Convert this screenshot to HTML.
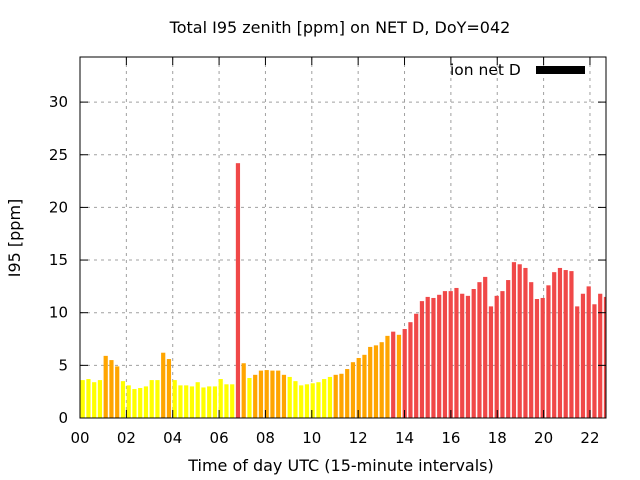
<!DOCTYPE html>
<html><head><meta charset="utf-8"><style>
html,body{margin:0;padding:0;background:#fff}
svg{display:block;font-family:"DejaVu Sans","Liberation Sans",sans-serif}
</style></head><body>
<svg id="chart" width="640" height="480">
<text x="340" y="33" text-anchor="middle" font-size="16">Total I95 zenith [ppm] on NET D, DoY=042</text>
<g id="grid"></g>
<g id="bars"></g>
<g id="axes"></g>
<text x="341" y="471" text-anchor="middle" font-size="16">Time of day UTC (15-minute intervals)</text>
<text transform="translate(20,238) rotate(-90)" text-anchor="middle" font-size="16">I95 [ppm]</text>
<g>
<text x="450" y="75" font-size="15.5">ion net D</text>
<rect x="536" y="66" width="49" height="8" fill="#000"></rect>
</g>
</svg>
<script>
const values = [3.6,3.7,3.4,3.6,5.9,5.5,4.9,3.5,3.1,2.75,2.85,3.0,3.6,3.6,6.2,5.6,3.6,3.1,3.1,3.0,3.4,2.9,3.0,3.0,3.7,3.2,3.2,24.2,5.2,3.8,4.1,4.5,4.55,4.5,4.5,4.1,3.9,3.5,3.1,3.2,3.3,3.4,3.7,3.9,4.1,4.2,4.65,5.3,5.7,6.0,6.75,6.9,7.2,7.8,8.2,7.9,8.45,9.1,9.9,11.1,11.5,11.4,11.7,12.05,12.05,12.35,11.8,11.6,12.25,12.9,13.4,10.6,11.6,12.05,13.1,14.8,14.6,14.25,12.9,11.3,11.4,12.6,13.85,14.25,14.05,13.95,10.6,11.8,12.5,10.8,11.8,11.5];
const yTicks = [0,5,10,15,20,25,30];
const xTickLabels = ["00","02","04","06","08","10","12","14","16","18","20","22"];
const xTickHours = [0,2,4,6,8,10,12,14,16,18,20,22];

const L=80,R=606,T=57,B=418;
const yMax=(B-T)/10.53;
function yS(v){return B-v/yMax*(B-T);}
function xH(h){return L+h*23.18;}
function xBar(i){return 80.6+i*5.75;}
const NS="http://www.w3.org/2000/svg";
function mk(tag,attrs,parent){const e=document.createElementNS(NS,tag);for(const k in attrs)e.setAttribute(k,attrs[k]);parent.appendChild(e);return e;}
const grid=document.getElementById('grid'),bars=document.getElementById('bars'),axes=document.getElementById('axes');

yTicks.forEach(v=>{
  const y=yS(v);
  if(v>0){const g=mk('line',{x1:L,x2:R,y1:y,y2:y,stroke:'#a0a0a0','stroke-dasharray':'3,4'},grid);
  
  }
  mk('line',{x1:L,x2:L+8,y1:y,y2:y,stroke:'#000'},axes);
  mk('line',{x1:R,x2:R-8,y1:y,y2:y,stroke:'#000'},axes);
  const t=mk('text',{x:L-12,y:y+5,'text-anchor':'end','font-size':15},axes);
  t.textContent=v;
  
  
});
xTickHours.forEach((h,i)=>{
  const x=xH(h);
  if(h>0){const g=mk('line',{x1:x,x2:x,y1:T,y2:B,stroke:'#a0a0a0','stroke-dasharray':'3,4'},grid);
  
  }
  mk('line',{x1:x,x2:x,y1:B,y2:B-8,stroke:'#000'},axes);
  mk('line',{x1:x,x2:x,y1:T,y2:T+8,stroke:'#000'},axes);
  const t=mk('text',{x:x,y:443,'text-anchor':'middle','font-size':15},axes);
  t.textContent=xTickLabels[i];
  
  
});
values.forEach((v,i)=>{
  const x=xBar(i);const w=Math.min(4.2,R-x);
  if(w<=0)return;
  const col=v<4?'#ffff00':(v<8?'#ffa500':'#f04848');
  const r=mk('rect',{x:x,y:yS(v),width:w,height:B-yS(v),fill:col},bars);
  
  
});
const f=mk('rect',{x:L,y:T,width:R-L,height:B-T,fill:'none',stroke:'#000','stroke-width':1},axes);


</script>
</body></html>
